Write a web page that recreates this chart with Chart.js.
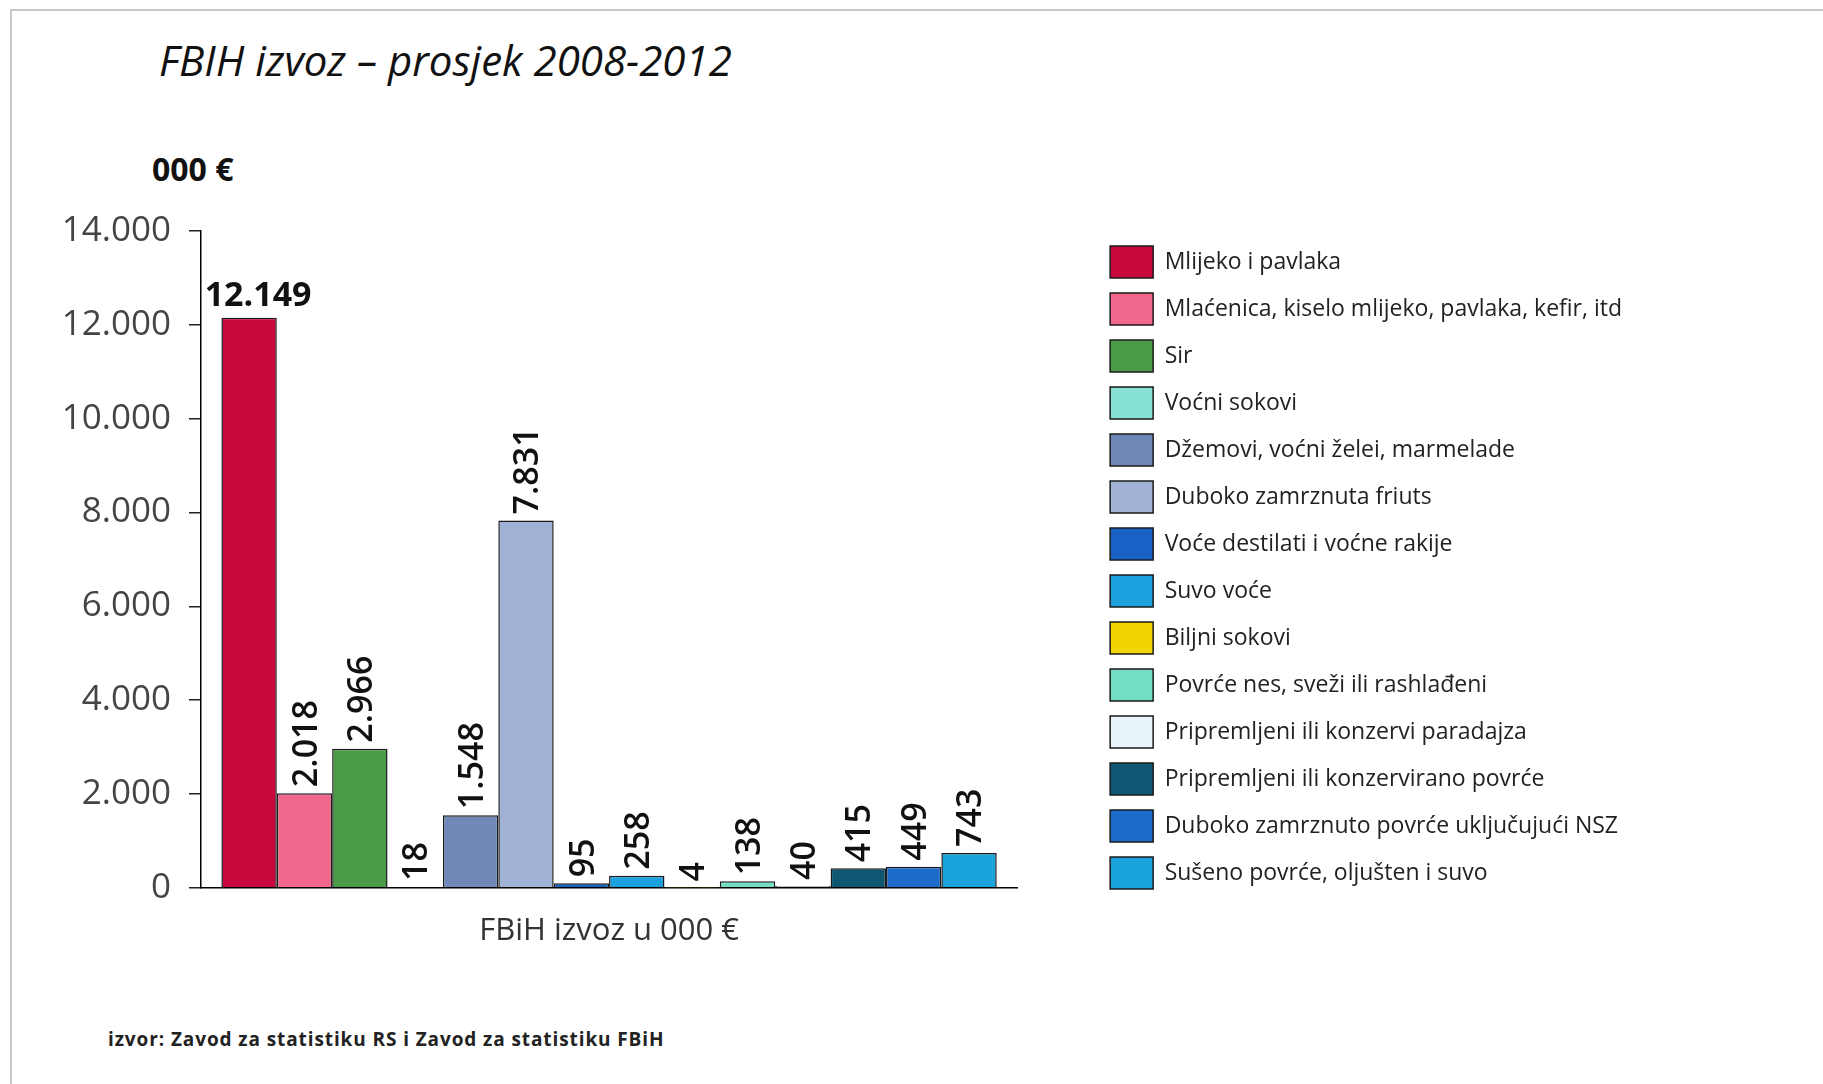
<!DOCTYPE html>
<html>
<head>
<meta charset="utf-8">
<script src="https://cdn.jsdelivr.net/npm/chart.js@4.4.0/dist/chart.umd.min.js"></script>
<style>
  html, body { margin: 0; padding: 0; background: #fff; }
  body { width: 1823px; height: 1084px; position: relative; overflow: hidden; font-family: 'Open Sans', sans-serif; }
  #okvir { position: absolute; left: 10px; top: 9px; width: 1850px; height: 1100px; border: 2px solid #c8c8c8; }
  .tekst { position: absolute; line-height: 1; white-space: nowrap; color: #111; }
  #naslov { left: 159px; top: 39px; font-size: 42px; font-style: italic; }
  #jedinica { left: 152px; top: 153px; font-size: 32px; font-weight: 700; }
  #izvor { left: 108px; top: 1030px; font-size: 19px; font-weight: 700; letter-spacing: 0.9px; color: #222; }
  #grafikon { position: absolute; left: 0; top: 0; }
</style>
</head>
<body>
<div id="okvir"></div>
<div class="tekst" id="naslov">FBIH izvoz – prosjek 2008-2012</div>
<div class="tekst" id="jedinica">000 €</div>
<div class="tekst" id="izvor">izvor: Zavod za statistiku RS i Zavod za statistiku FBiH</div>
<canvas id="grafikon" width="1823" height="1084"></canvas>

<script>
// podaci
const kategorije = ['FBiH izvoz u 000 €'];

const proizvodi = [
  'Mlijeko i pavlaka',
  'Mlaćenica, kiselo mlijeko, pavlaka, kefir, itd',
  'Sir',
  'Voćni sokovi',
  'Džemovi, voćni želei, marmelade',
  'Duboko zamrznuta friuts',
  'Voće destilati i voćne rakije',
  'Suvo voće',
  'Biljni sokovi',
  'Povrće nes, sveži ili rashlađeni',
  'Pripremljeni ili konzervi paradajza',
  'Pripremljeni ili konzervirano povrće',
  'Duboko zamrznuto povrće uključujući NSZ',
  'Sušeno povrće, oljušten i suvo'
];

const vrijednosti = [12149, 2018, 2966, 18, 1548, 7831, 95, 258, 4, 138, 40, 415, 449, 743];

const boje = [
  '#C8083C', '#F2678C', '#4A9B45', '#86E0D3', '#7088B8', '#A0B3D6', '#1762C4',
  '#1CA0DE', '#F2D500', '#74DEC5', '#E6F3F8', '#0E5672', '#1D6BCB', '#1AA3DD'
];

const yOznake = ['0', '2.000', '4.000', '6.000', '8.000', '10.000', '12.000', '14.000'];

// format broja s tačkom za hiljade
const formatiraj = v => String(v).replace(/\B(?=(\d{3})+(?!\d))/g, '.');

Chart.defaults.font.family = "'Open Sans', sans-serif";

// vrijednosti iznad stubaca
const oznakePlugin = {
  id: 'oznake',
  afterDatasetsDraw(chart) {
    const ctx = chart.ctx;
    chart.data.datasets.forEach((ds, i) => {
      const stubac = chart.getDatasetMeta(i).data[0];
      const tekst = formatiraj(ds.data[0]);
      ctx.save();
      ctx.fillStyle = '#111';
      if (i === 0) {
        // prvi broj stoji vodoravno
        ctx.font = "700 34px 'Open Sans'";
        ctx.textAlign = 'center';
        ctx.textBaseline = 'alphabetic';
        ctx.fillText(tekst, stubac.x + 9, stubac.y - 12);
      } else {
        ctx.font = "600 34px 'Open Sans'";
        ctx.translate(stubac.x, stubac.y - 6);
        ctx.rotate(-Math.PI / 2);
        ctx.textAlign = 'left';
        ctx.textBaseline = 'alphabetic';
        ctx.fillText(tekst, 0, 0.357 * 34);
      }
      ctx.restore();
    });
  }
};

const ctx = document.getElementById('grafikon').getContext('2d');

new Chart(ctx, {
  type: 'bar',
  data: {
    labels: kategorije,
    datasets: proizvodi.map((naziv, i) => ({
      label: naziv,
      data: [vrijednosti[i]],
      backgroundColor: boje[i],
      borderColor: '#1a1a1a',
      borderWidth: 1.5
    }))
  },
  options: {
    responsive: false,
    animation: false,
    layout: {
      padding: { top: 231, right: 191, bottom: 109, left: 0 }
    },
    datasets: {
      bar: { categoryPercentage: 0.95, barPercentage: 1 }
    },
    plugins: {
      legend: {
        position: 'right',
        align: 'start',
        maxWidth: 700,
        labels: {
          boxWidth: 43,
          boxHeight: 32,
          padding: 15,
          color: '#222',
          font: { size: 23 }
        }
      },
      tooltip: { enabled: false }
    },
    scales: {
      x: {
        grid: { display: false, drawTicks: false },
        border: { display: true, color: '#000', width: 1.5 },
        ticks: { padding: 25, color: '#333', font: { size: 31 } }
      },
      y: {
        min: 0,
        max: 14000,
        ticks: {
          stepSize: 2000,
          padding: 18,
          color: '#444',
          font: { size: 35 },
          callback: (v, idx) => yOznake[idx]
        },
        grid: { drawOnChartArea: false, drawTicks: true, tickLength: 12, color: '#222', lineWidth: 1.5 },
        border: { color: '#000', width: 1.5 },
        afterFit: s => { s.width = 201; }
      },
      // prazan prostor između grafikona i legende
      y2: {
        type: 'linear',
        position: 'right',
        display: true,
        grid: { display: false },
        border: { display: false },
        ticks: { display: false },
        afterFit: s => { s.width = 78; }
      }
    }
  },
  plugins: [oznakePlugin]
});
</script>
</body>
</html>
